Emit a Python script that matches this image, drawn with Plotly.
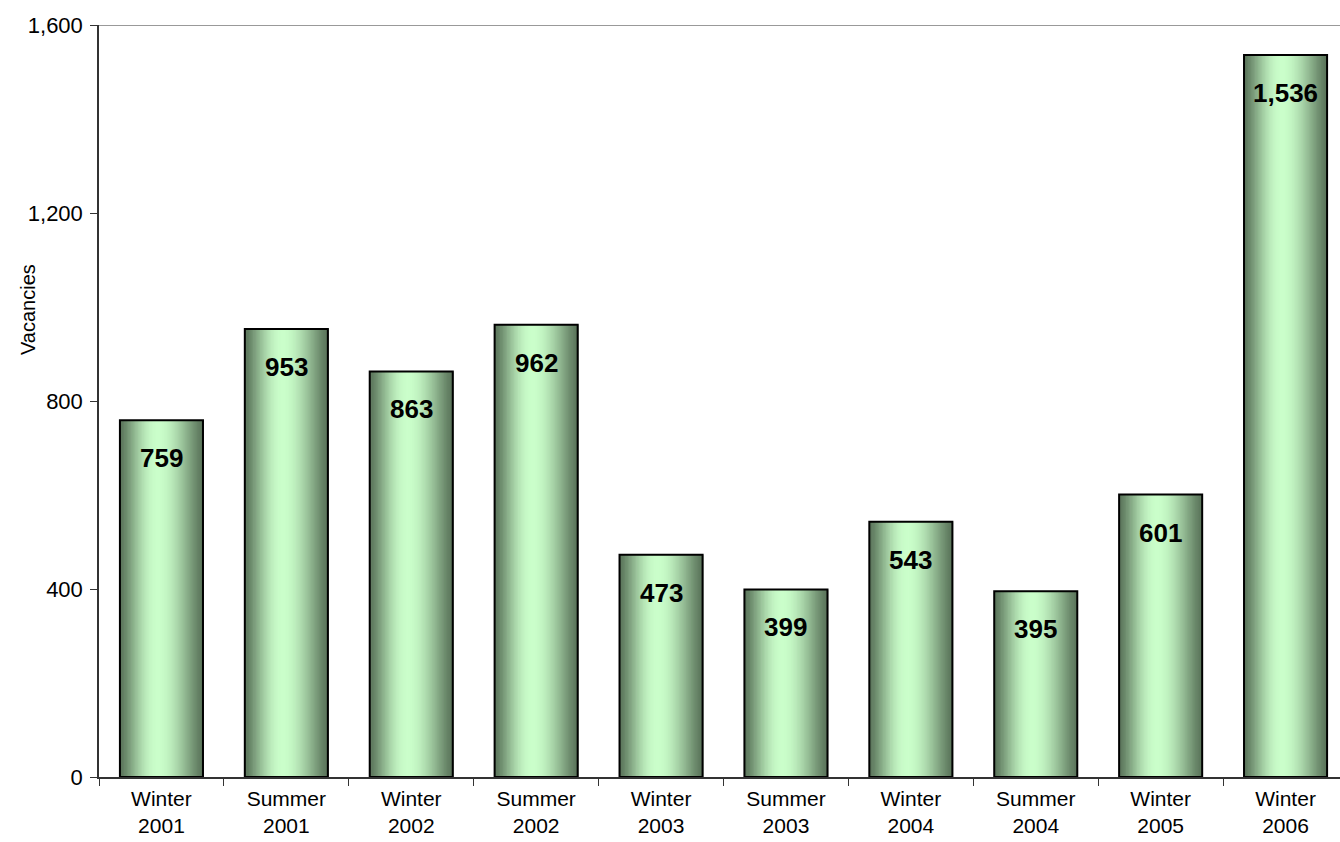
import math
import plotly.graph_objects as go

categories = ["Winter<br>2001", "Summer<br>2001", "Winter<br>2002", "Summer<br>2002",
              "Winter<br>2003", "Summer<br>2003", "Winter<br>2004", "Summer<br>2004",
              "Winter<br>2005", "Winter<br>2006"]
vacancies = [759, 953, 863, 962, 473, 399, 543, 395, 601, 1536]
y_ticks = [0, 400, 800, 1200, 1600]
y_ticklabels = ["0", "400", "800", "1,200", "1,600"]

FONT = "Liberation Sans, Arial, sans-serif"
BAR_W = 0.665
N = 60
dark = (90, 116, 90)
light = (202, 254, 202)
peak = 0.45

fig = go.Figure()
for i in range(N):
    t = (i + 0.5) / N
    d = (peak - t) / peak if t < peak else (t - peak) / (1 - peak)
    s = math.cos(math.pi / 2 * min(d, 1.0)) ** 1.3
    col = tuple(round(dark[k] + (light[k] - dark[k]) * s) for k in range(3))
    fig.add_trace(go.Bar(
        x=categories, y=vacancies,
        width=BAR_W / N + 0.006, offset=-BAR_W / 2 + i * BAR_W / N,
        marker=dict(color="rgb(%d,%d,%d)" % col, line=dict(width=0)),
        showlegend=False, hoverinfo="skip"))

fig.add_trace(go.Bar(
    x=categories, y=vacancies, width=BAR_W, offset=-BAR_W / 2,
    marker=dict(color="rgba(0,0,0,0)", line=dict(color="#000000", width=2)),
    showlegend=False))

for c, v in zip(categories, vacancies):
    fig.add_annotation(x=c, y=v, text=f"{v:,}", showarrow=False, yshift=-38,
                       font=dict(family=FONT, size=26, color="#000000", weight="bold"))

fig.add_annotation(xref="paper", yref="paper", x=0, y=0.621, xshift=-71,
                   xanchor="center", yanchor="middle",
                   text="Vacancies", textangle=-90, showarrow=False,
                   font=dict(family=FONT, size=20, color="#000000"))

fig.add_shape(type="line", xref="paper", x0=0, x1=1, yref="y", y0=1600, y1=1600,
              line=dict(color="#999999", width=2), layer="below")

fig.update_layout(
    width=1348, height=842,
    margin=dict(l=99, r=0, t=25, b=65, autoexpand=False),
    paper_bgcolor="white", plot_bgcolor="white",
    barmode="overlay",
    font=dict(family=FONT, size=22, color="#000000"),
    xaxis=dict(type="category", tickson="boundaries", ticks="outside", ticklen=7,
               tickcolor="#333333", showline=True, linecolor="#333333", linewidth=1.5,
               showgrid=False, automargin=False, tickfont=dict(size=21),
               ticklabelstandoff=2),
    yaxis=dict(range=[0, 1600], tickvals=y_ticks, ticktext=y_ticklabels,
               ticks="outside", ticklen=7, tickcolor="#333333",
               showline=True, linecolor="#333333", linewidth=1.5,
               showgrid=False, zeroline=False, automargin=False, tickfont=dict(size=22),
               ticklabelstandoff=3),
    xaxis2=dict(overlaying="x", range=[-0.5, 9.5], tickvals=[k - 0.5 for k in range(11)],
                ticks="inside", ticklen=7, tickcolor="#333333", showticklabels=False,
                showline=False, showgrid=False, zeroline=False, side="bottom"),
    yaxis2=dict(overlaying="y", range=[0, 1600], tickvals=y_ticks,
                ticks="inside", ticklen=7, tickcolor="#333333", showticklabels=False,
                showline=False, showgrid=False, zeroline=False, side="left"),
)

fig.write_html("out.html", config={"displayModeBar": False},
               post_script="document.body.style.margin='0px';document.body.style.overflow='hidden';")
